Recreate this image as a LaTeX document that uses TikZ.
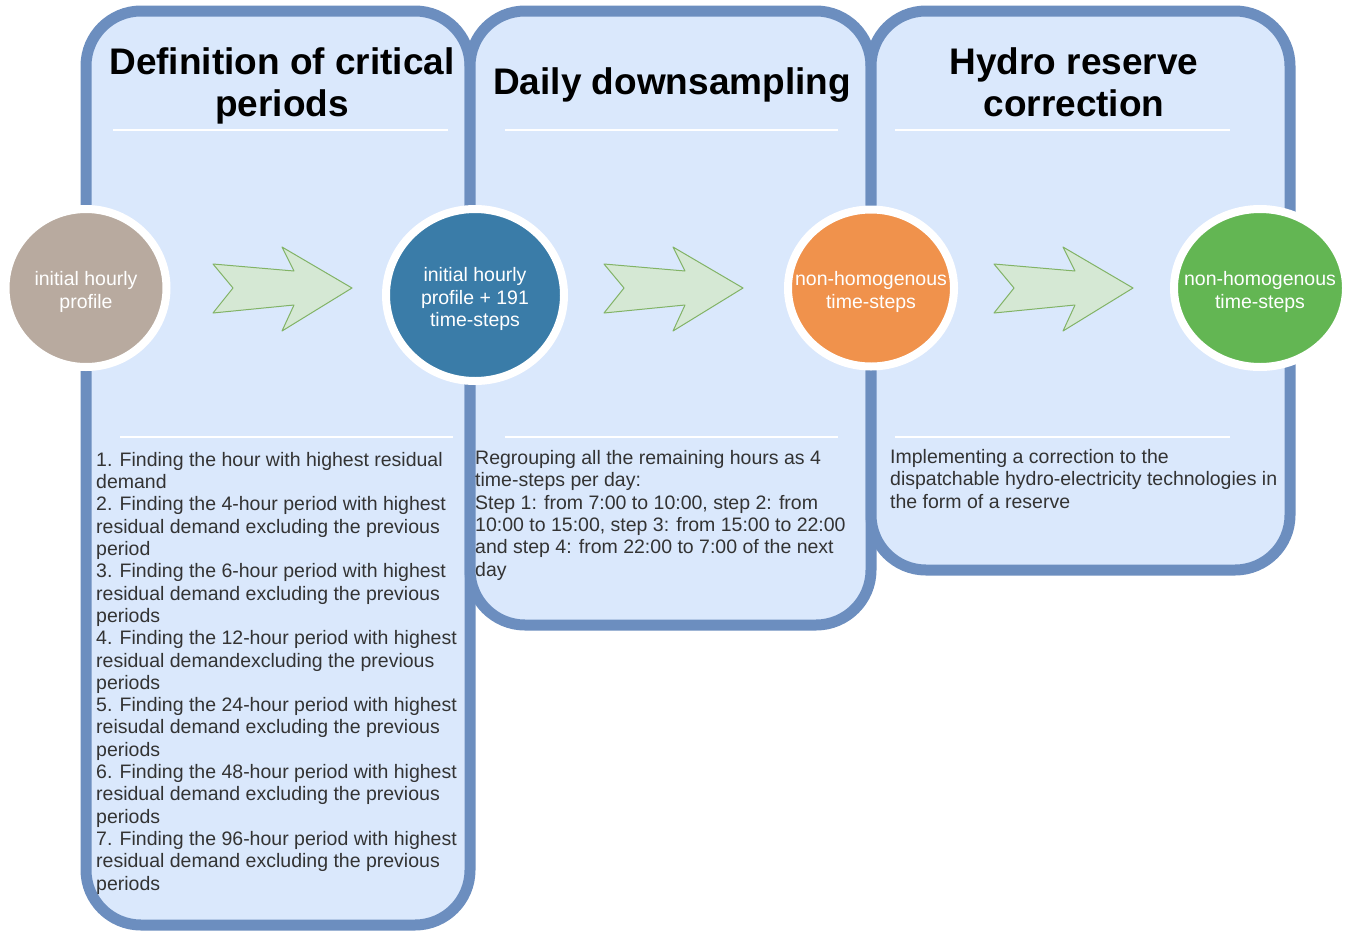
\documentclass[tikz,border=0pt]{standalone}
\usepackage{fontspec}
\setmainfont{Liberation Sans}
\usepackage{tikz}
\usetikzlibrary{shapes.geometric}
\definecolor{panelfill}{HTML}{DAE8FC}
\definecolor{panelline}{HTML}{6C8EBF}
\definecolor{arrowfill}{HTML}{D5E8D4}
\definecolor{arrowline}{HTML}{82B366}
\definecolor{rawcol}{HTML}{B8AA9F}
\definecolor{critcol}{HTML}{3A7CA8}
\definecolor{dailycol}{HTML}{F0924C}
\definecolor{hydrocol}{HTML}{63B653}
\definecolor{bodycol}{HTML}{333333}
\tikzset{
	panel/.style={draw=panelline, fill=panelfill, line width=11pt, rounded corners=55pt},
	rule/.style={draw=white, line width=2pt},
	stage/.style={ellipse, draw=white, line width=8pt, inner sep=0pt},
	stagetext/.style={text=white, align=center, yshift=-4pt, font=\fontsize{19.5}{22.3}\selectfont},
	titletext/.style={anchor=base, align=center, inner sep=0pt, font=\fontsize{37}{42}\selectfont\bfseries},
	bodytext/.style={anchor=base west, align=left, inner sep=0pt, text=bodycol, font=\fontsize{19.5}{22.3}\selectfont},
	blockarrow/.style={draw=arrowline, fill=arrowfill, line width=1pt, line join=round}
}
\begin{document}
\begin{tikzpicture}[x=1pt, y=-1pt]
	\useasboundingbox (0,0) rectangle (1354,932);
	% the three panels
	\draw[panel] (86,11) rectangle (470,925);
	\draw[panel] (470,11) rectangle (871,625);
	\draw[panel] (871,11) rectangle (1290,570);
	
	% titles (base = last line)
	\node[titletext] (defTitle) at (282,116) {Definition of critical\\periods};
	\node[titletext] (dailyTitle) at (672,94) {Daily downsampling};
	\node[titletext] (hydroTitle) at (1074,116) {Hydro reserve\\correction};
	
	\draw[rule] (113,130) -- (448,130);
	\draw[rule] (505,130) -- (838,130);
	\draw[rule] (895,130) -- (1230,130);
	\draw[rule] (120,437) -- (453,437);
	\draw[rule] (505,437) -- (838,437);
	\draw[rule] (895,437) -- (1230,437);
	
	% block arrows
	\coordinate (tipA) at (352,288);
	\coordinate (tipB) at (743,288);
	\coordinate (tipC) at (1133,288);
	\draw[blockarrow] (tipA) -- ++(-70,-41) -- ++(12,24) -- ++(-81,-7) -- ++(20,24) -- ++(-20,25) -- ++(81,-8) -- ++(-12,26) -- cycle;
	\draw[blockarrow] (tipB) -- ++(-70,-41) -- ++(12,24) -- ++(-81,-7) -- ++(20,24) -- ++(-20,25) -- ++(81,-8) -- ++(-12,26) -- cycle;
	\draw[blockarrow] (tipC) -- ++(-70,-41) -- ++(12,24) -- ++(-81,-7) -- ++(20,24) -- ++(-20,25) -- ++(81,-8) -- ++(-12,26) -- cycle;
	
	% stages
	\node[stage, fill=rawcol, minimum width=161pt, minimum height=158pt, label={[stagetext]center:initial hourly\\profile}] (raw) at (86,288) {};
	\node[stage, fill=critcol, minimum width=178pt, minimum height=172pt, label={[stagetext]center:initial hourly\\profile + 191\\time-steps}] (crit) at (475,295) {};
	\node[stage, fill=dailycol, minimum width=166pt, minimum height=157pt, label={[stagetext]center:non-homogenous\\time-steps}] (daily) at (871,288) {};
	\node[stage, fill=hydrocol, minimum width=172pt, minimum height=158pt, label={[stagetext]center:non-homogenous\\time-steps}] (hydro) at (1260,288) {};
	
	% descriptions (base = last line)
	\node[bodytext] (defText) at (96,890) {1. Finding the hour with highest residual\\demand\\2. Finding the 4-hour period with highest\\residual demand excluding the previous\\period\\3. Finding the 6-hour period with highest\\residual demand excluding the previous\\periods\\4. Finding the 12-hour period with highest\\residual demandexcluding the previous\\periods\\5. Finding the 24-hour period with highest\\reisudal demand excluding the previous\\periods\\6. Finding the 48-hour period with highest\\residual demand excluding the previous\\periods\\7. Finding the 96-hour period with highest\\residual demand excluding the previous\\periods};
	\node[bodytext] (dailyText) at (475,576) {Regrouping all the remaining hours as 4\\time-steps per day:\\Step 1: from 7:00 to 10:00, step 2: from\\10:00 to 15:00, step 3: from 15:00 to 22:00\\and step 4: from 22:00 to 7:00 of the next\\day};
	\node[bodytext] (hydroText) at (890,508) {Implementing a correction to the\\dispatchable hydro-electricity technologies in\\the form of a reserve};
\end{tikzpicture}
\end{document}
